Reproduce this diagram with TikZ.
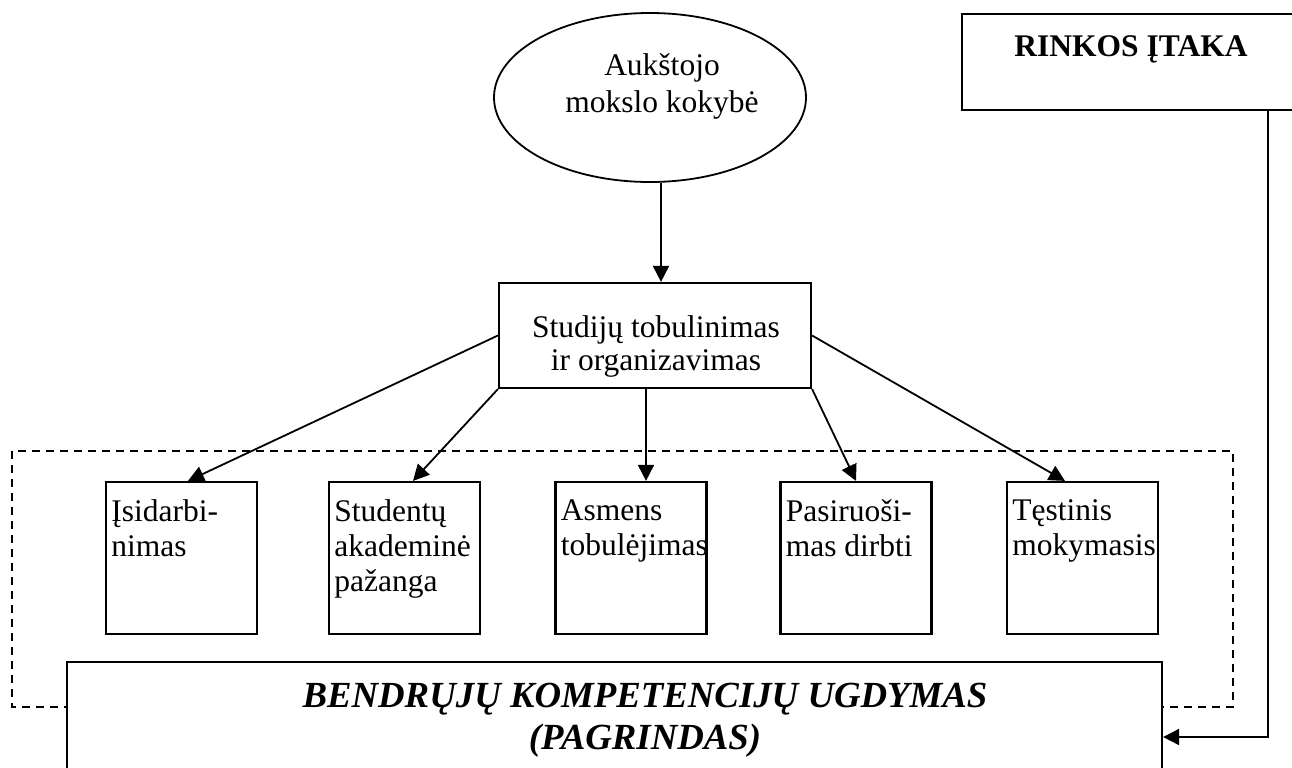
\documentclass[tikz,border=0pt]{standalone}
\usepackage{fontspec}
\setmainfont{Liberation Serif}
\usetikzlibrary{arrows.meta, calc, shapes.geometric}

\newcommand{\mainsize}{\fontsize{15.75}{17.5}\selectfont}
\newcommand{\bigsize}{\fontsize{18.4}{21}\selectfont}

\tikzset{
  arr/.style={line width=0.9pt, -{Triangle[length=8pt,width=8pt]}},
  box/.style={draw, line width=1.1pt, fill=white, inner sep=0pt},
  smallbox/.style={box, minimum width=75.5pt, minimum height=76pt},
  boxtext/.style={anchor=north west, align=left, inner xsep=3pt, inner ysep=9pt, font=\mainsize},
}

\begin{document}
\begin{tikzpicture}[x=0.5pt, y=-0.5pt]
  \clip (0,0) rectangle (1292,767);% page size of the reference

  % top: quality of higher education
  \node[draw, ellipse, line width=0.9pt, minimum width=156pt, minimum height=84.5pt] (kokybe) at (650,97.5) {};
  \node[font=\fontsize{15.75}{18.5}\selectfont, align=center] (kokybetxt) at (662,86) {Aukštojo\\mokslo kokybė};

  \node[box, minimum width=156pt, minimum height=52.5pt] (studijos) at (655,335.5) {};
  \node[font=\fontsize{15.75}{16.5}\selectfont, align=center] (studijostxt) at (656,346) {Studijų tobulinimas\\ir organizavimas};

  \coordinate (k) at ([xshift=5.5pt]kokybe.south);
  \draw[arr] (k) -- (k |- studijos.north);

  % market influence (box runs off the page)
  \node[box, minimum width=169pt, minimum height=48pt] (rinkos) at (1131,62) {};
  \node[font=\mainsize\bfseries] (rinkostxt) at (1131,49) {RINKOS ĮTAKA};

  % dashed frame behind the five boxes
  \draw[line width=0.9pt, dash pattern=on 4pt off 3pt] (12,451) rectangle (1233,707);

  \node[smallbox] (b1) at (181.5,558) {};
  \node[smallbox] (b2) at (404.5,558) {};
  \node[smallbox] (b3) at (631,558) {};
  \node[smallbox] (b4) at (856,558) {};
  \node[smallbox] (b5) at (1082.5,558) {};

  \node[boxtext] (t1) at (b1.north west) {Įsidarbi-\\nimas};
  \node[boxtext] (t2) at (b2.north west) {Studentų\\akademinė\\pažanga};
  \node[boxtext] (t3) at (b3.north west) {Asmens\\tobulėjimas};
  \node[boxtext] (t4) at (b4.north west) {Pasiruoši-\\mas dirbti};
  \node[boxtext] (t5) at (b5.north west) {Tęstinis\\mokymasis};

  \draw[arr] (studijos.west) -- ([xshift=3.25pt]b1.north);
  \draw[arr] (studijos.south west) -- ([xshift=4.25pt]b2.north);
  \draw[arr] ([xshift=-4.5pt]studijos.south) -- ([xshift=7.5pt]b3.north);
  \draw[arr] (studijos.south east) -- (b4.north);
  \draw[arr] (studijos.east) -- ([xshift=-8.75pt]b5.north);

  % base box (runs off the page at the bottom)
  \node[box, minimum width=547.5pt, minimum height=69pt] (ugdymas) at (614.5,731) {};
  \node[font=\bigsize\bfseries\itshape, align=center] (ugdymastxt) at (645,720) {BENDRŲJŲ KOMPETENCIJŲ UGDYMAS\\(PAGRINDAS)};

  \coordinate (turn) at (1268,737);
  \draw[arr] (rinkos.south -| turn) -- (turn) -- (ugdymas.east |- turn);
\end{tikzpicture}
\end{document}
